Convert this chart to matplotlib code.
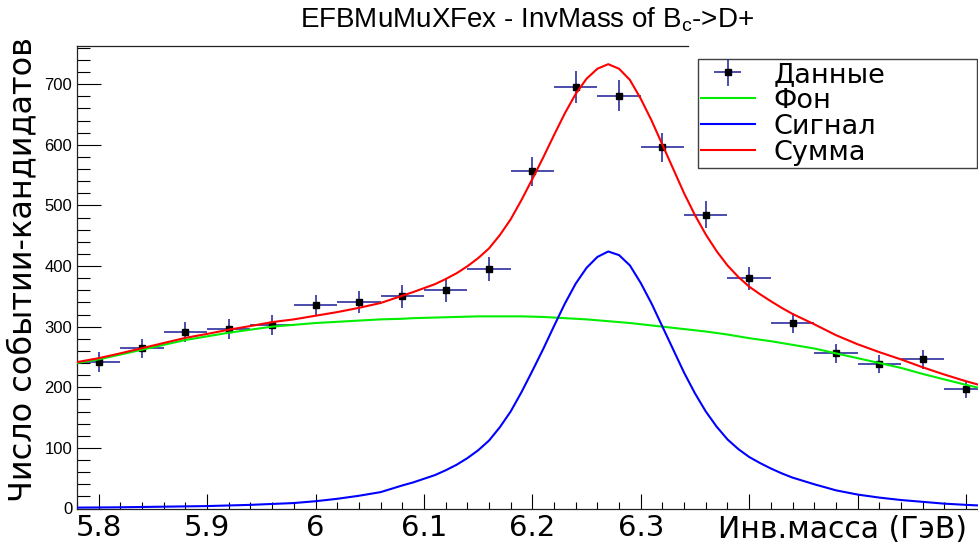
import matplotlib
matplotlib.use('Agg')
import matplotlib.pyplot as plt
from matplotlib.ticker import MultipleLocator, FuncFormatter

plt.rcParams['font.family'] = ['DejaVu Sans']
plt.rcParams['mathtext.fontset'] = 'custom'
plt.rcParams['mathtext.rm'] = 'Liberation Sans'

# histogram: bin centres, counts, errors
bin_x = [5.80, 5.84, 5.88, 5.92, 5.96, 6.00, 6.04, 6.08, 6.12, 6.16, 6.20,
         6.24, 6.28, 6.32, 6.36, 6.40, 6.44, 6.48, 6.52, 6.56, 6.60]
counts = [242, 264, 291, 296, 303, 335, 340, 350, 360, 395, 556,
          695, 681, 596, 485, 380, 306, 256, 239, 246, 197]
errs = [16, 16, 17, 17, 17, 18, 18, 19, 19, 20, 24,
        26, 26, 24, 22, 19, 17, 16, 15, 16, 14]
bin_half = 0.02

# fit curves, sampled by eye
curve_x = [5.78, 5.80, 5.82, 5.84, 5.86, 5.88, 5.90, 5.92, 5.94, 5.96, 5.98,
           6.00, 6.02, 6.04, 6.06, 6.08,
           6.09, 6.10, 6.11, 6.12, 6.13, 6.14, 6.15, 6.16, 6.17, 6.18, 6.19,
           6.20, 6.21, 6.22, 6.23, 6.24, 6.25, 6.26, 6.27, 6.28, 6.29, 6.30,
           6.31, 6.32, 6.33, 6.34, 6.35, 6.36, 6.37, 6.38, 6.39, 6.40, 6.41,
           6.42, 6.43, 6.44,
           6.46, 6.48, 6.50, 6.52, 6.54, 6.56, 6.58, 6.60, 6.612]
fon = [240, 246, 254, 262, 270, 278, 284, 290, 295, 300, 303,
       306, 308, 310, 312, 313,
       314, 314.5, 315, 315.5, 316, 316.5, 317, 317, 317, 317, 317,
       316.5, 316, 315, 314, 313, 312, 310.5, 309, 307.5, 306, 304,
       302, 300, 298, 296, 294, 292, 289.5, 287, 284, 281, 278.5,
       276, 273, 270,
       264, 256, 248, 240, 232, 222, 213, 204, 199]
signal = [1.5, 1.7, 2, 2.5, 3, 3.5, 4, 5, 6, 7.5, 9,
          12, 16, 21, 27, 38,
          43, 49, 55, 63, 72, 83, 96, 112, 134, 160, 192,
          227, 263, 301, 338, 371, 397, 415, 424, 418, 401, 372,
          338, 300, 262, 224, 190, 160, 135, 114, 98, 85, 75,
          66, 58, 51,
          40, 30, 23, 18, 14, 11, 8, 6, 5]
summa = [241.5, 248, 256, 264.5, 273, 281.5, 288, 295, 301, 307.5, 312,
         318, 324, 331, 339, 351,
         357, 363.5, 370, 378.5, 388, 399.5, 413, 429, 451, 477, 509,
         543.5, 579, 616, 652, 684, 709, 725.5, 733, 725.5, 707, 676,
         640, 600, 560, 520, 484, 452, 424.5, 401, 382, 366, 353.5,
         342, 331, 321,
         304, 286, 271, 258, 246, 233, 221, 210, 204]

fig = plt.figure(figsize=(9.79, 5.49), dpi=100)
ax = fig.add_axes([77/979, 40.5/549, 902/979, 462.5/549])

data = ax.errorbar(bin_x, counts, xerr=bin_half, yerr=errs, fmt='s',
                   color='black', ms=4.5, ecolor='#2e2e9e', elinewidth=1.2,
                   capsize=0, zorder=2, label='Данные')
l_fon, = ax.plot(curve_x, fon, color='#00ee00', lw=1.5, zorder=3, label='Фон')
l_sig, = ax.plot(curve_x, signal, color='#0000ff', lw=1.5, zorder=3, label='Сигнал')
l_sum, = ax.plot(curve_x, summa, color='#ff0000', lw=1.5, zorder=3, label='Сумма')

ax.set_xlim(5.78, 6.612)
ax.set_ylim(0, 763)

ax.xaxis.set_major_locator(MultipleLocator(0.1))
ax.xaxis.set_minor_locator(MultipleLocator(0.02))
ax.xaxis.set_major_formatter(FuncFormatter(lambda v, p: '%g' % round(v, 2) if v < 6.35 else ''))
ax.yaxis.set_major_locator(MultipleLocator(100))
ax.yaxis.set_minor_locator(MultipleLocator(20))

ax.tick_params(axis='x', which='major', direction='in', length=11, width=0.8,
               labelsize=21, pad=4)
ax.tick_params(axis='x', which='minor', direction='in', length=5, width=0.8)
ax.tick_params(axis='y', which='major', direction='in', length=17, width=0.8,
               labelsize=12, pad=3.5)
ax.tick_params(axis='y', which='minor', direction='in', length=9, width=0.8)
for t in ax.get_yticklabels():
    t.set_family('Liberation Sans')

ax.spines['right'].set_visible(False)
ax.spines['top'].set_bounds(5.78, 6.3435)
for s in ax.spines.values():
    s.set_linewidth(0.9)
    s.set_color('#222222')

fig.text(967/979, 1 - 530/549, 'Инв.масса (ГэВ)', ha='right', va='center', fontsize=21.5)
fig.text(23/979, 1 - 270/549, 'Число событии-кандидатов', rotation=90,
         ha='center', va='center', fontsize=23)
fig.text(527/979, 1 - 20/549, r'EFBMuMuXFex - InvMass of B$_\mathregular{c}$->D+',
         ha='center', va='center', fontsize=20, family='Liberation Sans')

leg = ax.legend(handles=[data, l_fon, l_sig, l_sum], loc='upper left',
                bbox_to_anchor=(698/979, 1 - 59/549, 279/979, 0.0),
                bbox_transform=fig.transFigure, mode='expand',
                borderaxespad=0, fontsize=19.5, frameon=True, fancybox=False,
                framealpha=1, edgecolor='#404040', handlelength=2.0,
                handletextpad=0.7, borderpad=0.1, labelspacing=0.0)
leg.get_frame().set_linewidth(1.0)

fig.savefig('out.png', dpi=100)
